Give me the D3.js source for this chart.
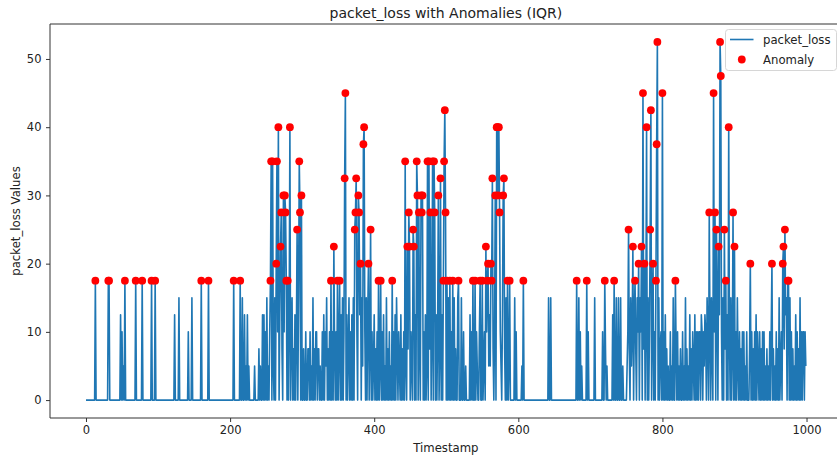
<!DOCTYPE html>
<html>
<head>
<meta charset="utf-8">
<script src="https://cdn.jsdelivr.net/npm/d3@7"></script>
<style>
  html, body { margin: 0; padding: 0; background: #fff; }
  svg { display: block; }
  text { font-family: "DejaVu Sans", sans-serif; fill: #222; }
</style>
</head>
<body>
<svg id="chart" width="837" height="459"></svg>
<script>
// ---- data ----
// packet_loss values, one character per timestamp (0..999); each char = value / 2.5 in base 36
const packetLossCodes = [
  "0000000000 0007000000 0000000000 0770000000 0000000050", // 0-49
  "4020700000 0000000007 0000000070 0000000000 0700007000", // 50-99
  "0000000000 0000000000 0005000006 0000000000 0040000600", // 100-149
  "0000000000 7000000000 7000000000 0000000000 0000000000", // 150-199
  "0000070000 0000700600 5020502000 0000200000 3020050504", // 200-249
  "0602047e0e 20608e4g05 9b30c4cb70 705g046030 504a06eb0c", // 250-299
  "0030040033 0402060304 4033020040 5042603040 7040930407", // 300-349
  "037050604d i050360405 060abd40cb 58062fg406 05803a0402", // 350-399
  "5030407027 0405020603 0402070405 0630420503 040e2093b9", // 400-449
  "0420a9050e c0b30cbc04 0502e0e3b0 4e0eb0504c 03d0507ehb", // 450-499
  "0706070407 0603006700 0600400200 0005040700 7042004700", // 500-549
  "7024094782 5287d304c0 ggcgb4205c d306070270 0000060400", // 550-599
  "0000020700 0000000000 0000000000 0000000000 0060060000", // 600-649
  "0000000000 0000000000 0000000000 0700604020 0000070400", // 650-699
  "0000006000 0000000400 7302000000 0507006006 0060020000", // 700-749
  "024a306249 0573064806 490i3805g0 604ah05804 07fl060340", // 750-799
  "i040503020 0402060073 0402030040 2060302050 3042050404", // 800-849
  "0440540425 40640b4063 0i4b0a6095 lj4060a370 50g40603b0", // 850-899
  "9040620403 0404020400 0380403040 5042040304 0402030204", // 900-949
  "0480302040 3060240893 a560770604 0302050403 0604044042"  // 950-999
];
const codeStep = 2.5;
const anomalyMin = 17.5;          // values flagged by the IQR rule in the picture
const xTicks = [0, 200, 400, 600, 800, 1000];
const yTicks = [0, 10, 20, 30, 40, 50];
const titleText = "packet_loss with Anomalies (IQR)";
const xLabel = "Timestamp";
const yLabel = "packet_loss Values";
const legendItems = ["packet_loss", "Anomaly"];

(function () {
// ---- build table ----
const values = packetLossCodes.join("").replace(/\s+/g, "").split("")
  .map(c => parseInt(c, 36) * codeStep);
const series = values.map((v, i) => ({ t: i, v }));
const anomalies = series.filter(d => d.v >= anomalyMin);

// ---- layout ----
const svg = d3.select("#chart");
const mLeft = 50, mRight = 841.8, mTop = 24, mBottom = 418;
const n = series.length;
const xPad = (n - 1) * 0.05;
const x = d3.scaleLinear().domain([-xPad, (n - 1) + xPad]).range([mLeft, mRight]);
const yMax = d3.max(values);
const y = d3.scaleLinear().domain([-yMax * 0.05, yMax * 1.05]).range([mBottom, mTop]);

svg.append("rect").attr("width", 837).attr("height", 459).attr("fill", "#fff");

// line
svg.append("path")
  .datum(series)
  .attr("fill", "none")
  .attr("stroke", "#1f77b4")
  .attr("stroke-width", 1.6)
  .attr("stroke-linejoin", "round")
  .attr("d", d3.line().x(d => x(d.t)).y(d => y(d.v)));

// anomalies
svg.append("g").selectAll("circle")
  .data(anomalies).join("circle")
  .attr("cx", d => x(d.t)).attr("cy", d => y(d.v))
  .attr("r", 3.9).attr("fill", "red");

// frame (right spine lies outside the crop)
const frame = svg.append("g").attr("fill", "none").attr("stroke", "#333").attr("stroke-width", 1);
frame.append("line").attr("x1", mLeft).attr("x2", mLeft).attr("y1", mTop).attr("y2", mBottom);
frame.append("line").attr("x1", mLeft).attr("x2", mRight).attr("y1", mBottom).attr("y2", mBottom);
frame.append("line").attr("x1", mLeft).attr("x2", mRight).attr("y1", mTop).attr("y2", mTop);
frame.append("line").attr("x1", mRight).attr("x2", mRight).attr("y1", mTop).attr("y2", mBottom);

// axes
const xAxis = d3.axisBottom(x).tickValues(xTicks).tickSize(4).tickPadding(4).tickFormat(d3.format("d"));
const gx = svg.append("g").attr("transform", `translate(0,${mBottom})`).call(xAxis);
gx.select(".domain").remove();
gx.selectAll(".tick line").attr("stroke", "#333");
gx.selectAll(".tick text").attr("font-size", 11.5).attr("font-family", "DejaVu Sans").attr("fill", "#222");

const yAxis = d3.axisLeft(y).tickValues(yTicks).tickSize(4).tickPadding(4.5).tickFormat(d3.format("d"));
const gy = svg.append("g").attr("transform", `translate(${mLeft},0)`).call(yAxis);
gy.select(".domain").remove();
gy.selectAll(".tick line").attr("stroke", "#333");
gy.selectAll(".tick text").attr("font-size", 11.5).attr("font-family", "DejaVu Sans").attr("fill", "#222");

// title & labels
svg.append("text").attr("x", (mLeft + mRight) / 2).attr("y", 18).attr("text-anchor", "middle")
  .attr("font-size", 14).text(titleText);
svg.append("text").attr("x", (mLeft + mRight) / 2).attr("y", 451.5).attr("text-anchor", "middle")
  .attr("font-size", 11.7).text(xLabel);
svg.append("text").attr("transform", `translate(20,${(mTop + mBottom) / 2}) rotate(-90)`)
  .attr("text-anchor", "middle").attr("font-size", 11.7).text(yLabel);

// legend
const lg = svg.append("g");
lg.append("rect").attr("x", 725.5).attr("y", 29.5).attr("width", 111).attr("height", 41)
  .attr("rx", 3).attr("fill", "#fff").attr("fill-opacity", 0.8).attr("stroke", "#d6d6d6");
lg.append("line").attr("x1", 730).attr("x2", 753.5).attr("y1", 39.5).attr("y2", 39.5)
  .attr("stroke", "#1f77b4").attr("stroke-width", 1.6);
lg.append("circle").attr("cx", 741.8).attr("cy", 59.5).attr("r", 3.9).attr("fill", "red");
lg.selectAll("text.leg").data(legendItems).join("text").attr("class", "leg")
  .attr("x", 763).attr("y", (d, i) => 43.5 + i * 20).attr("font-size", 11.7).text(d => d);
})();
</script>
</body>
</html>
